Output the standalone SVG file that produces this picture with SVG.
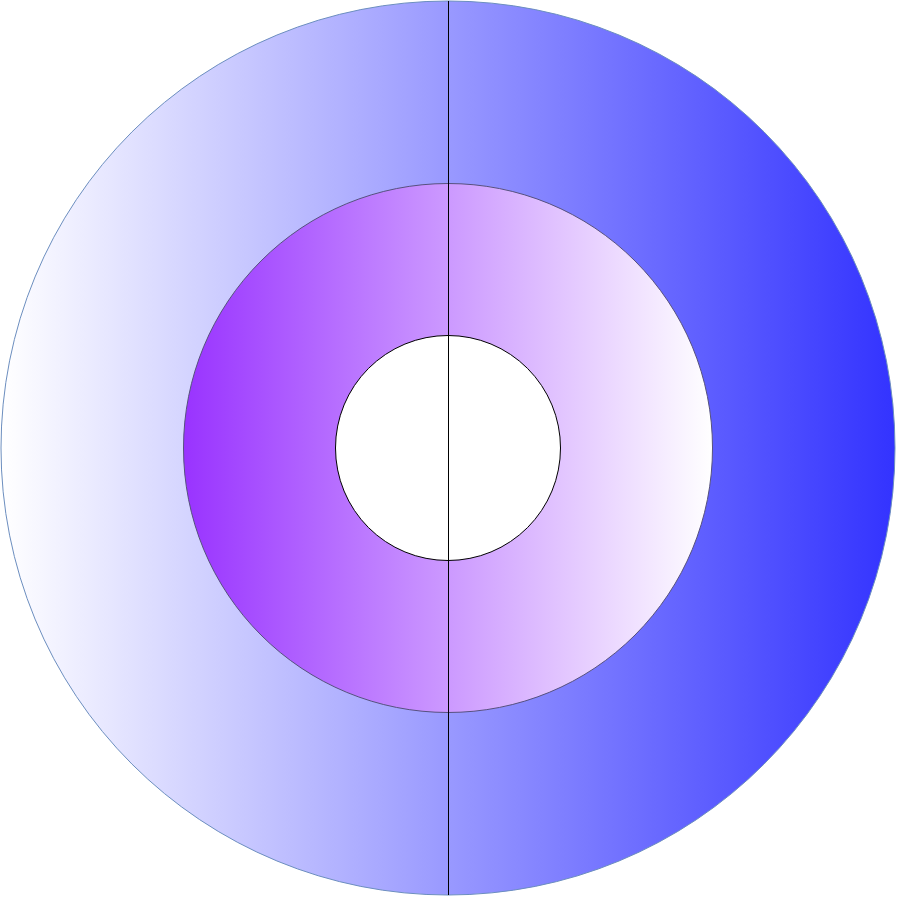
<svg xmlns="http://www.w3.org/2000/svg" width="897" height="898" viewBox="0 0 897 898">
  <defs>
    <linearGradient id="gOuter" x1="0" y1="0" x2="1" y2="0">
      <stop offset="0" stop-color="#ffffff"/>
      <stop offset="1" stop-color="#3333ff"/>
    </linearGradient>
    <linearGradient id="gInner" x1="0" y1="0" x2="1" y2="0">
      <stop offset="0" stop-color="#9933ff"/>
      <stop offset="1" stop-color="#ffffff"/>
    </linearGradient>
  </defs>
  <style>
    .conn { stroke: #000000; stroke-width: 1; fill: none; }
  </style>
  <g id="outer-ring">
    <circle cx="448" cy="448" r="447" fill="url(#gOuter)" stroke="#6c8ebf" stroke-width="1"/>
  </g>
  <g id="middle-ring">
    <circle cx="448" cy="448" r="264.5" fill="url(#gInner)" stroke="#56517e" stroke-width="1"/>
  </g>
  <g id="core">
    <circle cx="448" cy="448" r="112.5" fill="#ffffff" stroke="#000000" stroke-width="1"/>
  </g>
  <g id="connectors">
    <line class="conn" x1="448.5" y1="1" x2="448.5" y2="895"/>
  </g>
</svg>
